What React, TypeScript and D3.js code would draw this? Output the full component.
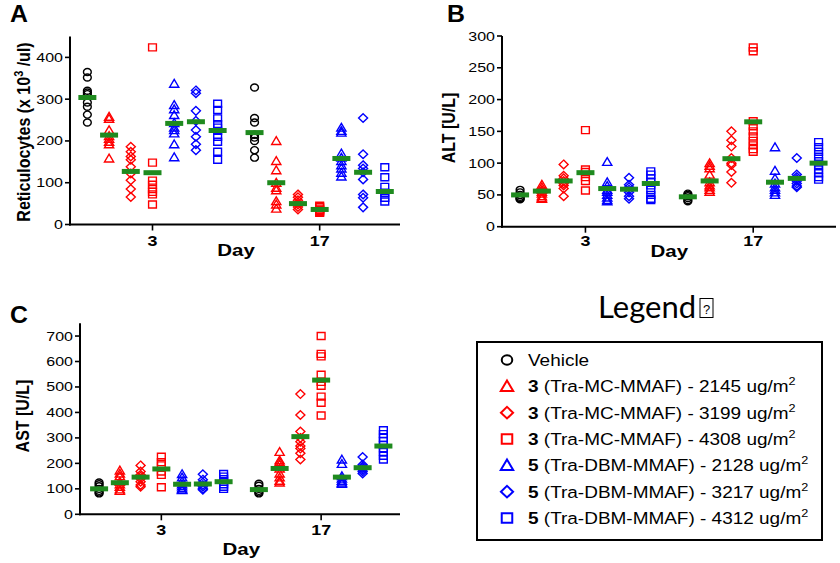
import * as d3 from "d3";

// groups: vehicle, conj 3 (three doses), conj 5 (three doses)
const groupColors = ["#000000", "#ff0000", "#ff0000", "#ff0000", "#0000ff", "#0000ff", "#0000ff"];
const groupShapes = ["circle", "triangle", "diamond", "square", "triangle", "diamond", "square"];
const dayLabels = ["3", "17"];
const dayOffsets = [0, 7.7];

const legendCompound = ["", "3", "3", "3", "5", "5", "5"];
const legendConjugate = ["Vehicle", "(Tra-MC-MMAF)", "(Tra-MC-MMAF)", "(Tra-MC-MMAF)", "(Tra-DBM-MMAF)", "(Tra-DBM-MMAF)", "(Tra-DBM-MMAF)"];
const legendDose = ["", "2145", "3199", "4308", "2128", "3217", "4312"];

// A: reticulocytes
const retTicks = [0, 100, 200, 300, 400];
const retDay3 = [
  [365, 352, 320, 316, 312, 292, 282, 263, 244],
  [258, 253, 226, 212, 205, 198, 192, 158],
  [186, 174, 163, 155, 138, 122, 106, 85, 66],
  [424, 148, 105, 95, 85, 78, 72, 48],
  [337, 286, 276, 262, 243, 232, 226, 218, 192, 161],
  [321, 314, 272, 248, 226, 210, 192, 178],
  [289, 274, 254, 240, 232, 224, 210, 198, 174, 155],
];
const retDay17 = [
  [328, 255, 244, 215, 208, 200, 178, 160],
  [200, 152, 130, 100, 88, 82, 56, 48, 38],
  [72, 65, 58, 52, 48, 42, 36],
  [45, 42, 38, 35, 32, 30, 28],
  [232, 224, 220, 170, 160, 152, 142, 134, 124, 115],
  [255, 168, 142, 134, 125, 108, 72, 64, 41],
  [137, 113, 90, 76, 64, 55],
];
const retMean3 = [304, 214, 127, 124, 242, 246, 225];
const retMean17 = [220, 100, 50, 36, 158, 125, 79];

// B: ALT
const altTicks = [0, 50, 100, 150, 200, 250, 300];
const altDay3 = [
  [58, 54, 50, 47, 45, 44, 43],
  [66, 62, 58, 55, 52, 48, 45, 44],
  [98, 80, 76, 72, 68, 65, 60, 48],
  [152, 90, 86, 78, 72, 57],
  [102, 70, 64, 58, 55, 50, 46, 42, 40],
  [77, 66, 62, 58, 54, 48, 44],
  [87, 82, 76, 70, 65, 58, 50, 44, 42],
];
const altDay17 = [
  [52, 50, 48, 45, 42, 40],
  [100, 96, 92, 82, 70, 65, 62, 58, 55],
  [150, 136, 126, 108, 100, 97, 86, 69],
  [282, 276, 166, 158, 150, 142, 135, 128, 122, 118],
  [125, 88, 76, 68, 62, 58, 54, 50],
  [108, 82, 78, 75, 72, 68, 64, 62],
  [133, 125, 118, 110, 103, 97, 90, 84, 78, 74],
];
const altMean3 = [50, 56, 72, 85, 60, 59, 68];
const altMean17 = [47, 72, 107, 165, 70, 76, 100];

// C: AST
const astTicks = [0, 100, 200, 300, 400, 500, 600, 700];
const astDay3 = [
  [125, 118, 110, 100, 92, 86, 82],
  [172, 160, 150, 128, 118, 108, 98, 92],
  [192, 168, 155, 148, 140, 128, 115, 108],
  [226, 205, 192, 168, 155, 106],
  [158, 145, 130, 118, 110, 102, 97, 95],
  [157, 136, 125, 115, 108, 100, 96],
  [158, 148, 138, 128, 118, 108, 100],
];
const astDay17 = [
  [120, 112, 100, 92, 86, 82],
  [245, 212, 205, 195, 180, 160, 145, 132, 125],
  [472, 390, 325, 300, 285, 268, 258, 240, 215],
  [700, 630, 620, 548, 520, 505, 462, 438, 388],
  [215, 198, 150, 140, 132, 125, 120],
  [225, 195, 188, 182, 175, 168, 160],
  [330, 315, 300, 288, 272, 260, 245, 230, 215],
];
const astMean3 = [100, 124, 146, 178, 118, 119, 128];
const astMean17 = [97, 180, 305, 527, 146, 183, 268];

const FONT = "'Liberation Sans', Arial, Helvetica, sans-serif";
const GREEN = "#1f8a1f";
const SX = 1.28; // horizontal stretch of the original raster

function markerPath(shape: string, s = 1) {
  if (shape === "circle") {
    const rx = 3.9 * s, ry = 3.5 * s;
    return `M${-rx},0a${rx},${ry} 0 1,0 ${2 * rx},0a${rx},${ry} 0 1,0 ${-2 * rx},0Z`;
  }
  if (shape === "triangle") return `M0,${-4.3 * s}L${4.6 * s},${3.5 * s}L${-4.6 * s},${3.5 * s}Z`;
  if (shape === "diamond") return `M0,${-4.3 * s}L${4.5 * s},0L0,${4.3 * s}L${-4.5 * s},0Z`;
  return `M${-3.9 * s},${-3.5 * s}h${7.8 * s}v${7 * s}h${-7.8 * s}Z`;
}

function Panel({ cfg }: { cfg: any }) {
  const x = d3.scaleLinear().domain(cfg.xDomain).range([cfg.left, cfg.right]);
  const y = d3.scaleLinear().domain([0, cfg.yMax]).range([cfg.zero, cfg.top]);
  const days = [cfg.day3, cfg.day17];
  const means = [cfg.mean3, cfg.mean17];
  const y0 = y(0);
  const tickXs = dayOffsets.map((o) => x(o + 3));
  const dayX = (tickXs[0] + tickXs[1]) / 2;

  return (
    <g fontFamily={FONT}>
      <text transform={`translate(${cfg.letter[0]},${cfg.letter[1]}) scale(1.08,1)`}
        fontSize={23} fontWeight="bold">
        {cfg.name}
      </text>
      <text transform={`translate(${cfg.ylab[0]},${cfg.ylab[1]}) rotate(-90) scale(1,1.12)`}
        textAnchor="middle" fontSize={16} fontWeight="bold">
        {cfg.yLabel}
      </text>

      {/* points */}
      {days.map((groups: number[][], di: number) =>
        groups.map((vals, gi) =>
          vals.map((v, k) => (
            <path key={`${di}-${gi}-${k}`} d={markerPath(groupShapes[gi])}
              transform={`translate(${x(dayOffsets[di] + gi)},${y(v)})`}
              fill="none" stroke={groupColors[gi]} strokeWidth={1.4} />
          ))
        )
      )}
      {/* mean bars */}
      {means.map((ms: number[], di: number) =>
        ms.map((m, gi) => (
          <rect key={`m${di}-${gi}`} x={x(dayOffsets[di] + gi) - 9} y={y(m) - 2.5}
            width={18} height={5} fill={GREEN} />
        ))
      )}

      {/* y axis */}
      <line x1={cfg.left} x2={cfg.left} y1={y0 + 1} y2={y(cfg.yMax)} stroke="#000" strokeWidth={2} />
      {cfg.ticks.map((t: number) => (
        <g key={t}>
          <line x1={cfg.left - 5} x2={cfg.left} y1={y(t)} y2={y(t)} stroke="#000" strokeWidth={1.6} />
          <text transform={`translate(${cfg.left - 7},${y(t) + 4.5}) scale(${SX},1)`}
            textAnchor="end" fontSize={12.5}>{t}</text>
        </g>
      ))}

      {/* x axis */}
      <line x1={cfg.left - 1} x2={cfg.right} y1={y0} y2={y0} stroke="#000" strokeWidth={2} />
      {tickXs.map((tx, i) => (
        <g key={i}>
          <line x1={tx} x2={tx} y1={y0} y2={y0 + 6} stroke="#000" strokeWidth={1.6} />
          <text transform={`translate(${tx},${y0 + cfg.tickDy}) scale(${SX},1)`}
            textAnchor="middle" fontSize={14} fontWeight="bold">{dayLabels[i]}</text>
        </g>
      ))}
      <text transform={`translate(${dayX},${y0 + cfg.dayDy}) scale(${SX},1)`}
        textAnchor="middle" fontSize={16} fontWeight="bold">Day</text>
    </g>
  );
}

const panels = [
  {
    name: "A", left: 70, right: 400, zero: 224.5, top: 36.5, yMax: 450,
    xDomain: [-0.8, 14.4], letter: [10, 22], ylab: [30, 132], tickDy: 21, dayDy: 31,
    ticks: retTicks, day3: retDay3, day17: retDay17, mean3: retMean3, mean17: retMean17,
    yLabel: (<>Reticulocytes (x 10<tspan dy={-6} fontSize={11}>3</tspan><tspan dy={6}> /ul)</tspan></>),
  },
  {
    name: "B", left: 502, right: 836, zero: 226.7, top: 36, yMax: 300,
    xDomain: [-0.83, 14.5], letter: [447, 22], ylab: [455, 128], tickDy: 19, dayDy: 30,
    ticks: altTicks, day3: altDay3, day17: altDay17, mean3: altMean3, mean17: altMean17,
    yLabel: "ALT [U/L]",
  },
  {
    name: "C", left: 80, right: 400, zero: 514.3, top: 323.3, yMax: 750,
    xDomain: [-0.92, 14.5], letter: [10, 323], ylab: [29, 416], tickDy: 21, dayDy: 41,
    ticks: astTicks, day3: astDay3, day17: astDay17, mean3: astMean3, mean17: astMean17,
    yLabel: "AST [U/L]",
  },
];

function Legend() {
  const rowY = d3.scaleLinear().domain([0, 6]).range([360, 518]);
  return (
    <g>
      <text x={598} y={318} fontFamily="Lato, 'Open Sans', sans-serif" fontSize={31}>Legend</text>
      <rect x={700} y={298.5} width={13} height={19} fill="none" stroke="#000" strokeWidth={1} />
      <text x={706.5} y={314} textAnchor="middle" fontFamily={FONT} fontSize={13}>?</text>
      <rect x={477} y={342} width={345} height={198} fill="none" stroke="#000" strokeWidth={2} />
      {groupShapes.map((s, i) => (
        <g key={i}>
          <path d={markerPath(s, 1.35)} transform={`translate(507,${rowY(i)})`}
            fill="none" stroke={groupColors[i]} strokeWidth={2} />
          <text transform={`translate(528,${rowY(i) + 6}) scale(1.15,1)`} fontFamily={FONT} fontSize={16.5}>
            {i === 0 ? legendConjugate[i] : (
              <>
                <tspan fontWeight="bold">{legendCompound[i]}</tspan>
                {` ${legendConjugate[i]} - ${legendDose[i]} ug/m`}
                <tspan dy={-7} fontSize={11}>2</tspan>
              </>
            )}
          </text>
        </g>
      ))}
    </g>
  );
}

export default function App() {
  return (
    <svg width={840} height={563} style={{ position: "absolute", left: 0, top: 0, background: "#fff" }}>
      <rect width={840} height={563} fill="#fff" />
      {panels.map((p) => <Panel key={p.name} cfg={p} />)}
      <Legend />
    </svg>
  );
}
